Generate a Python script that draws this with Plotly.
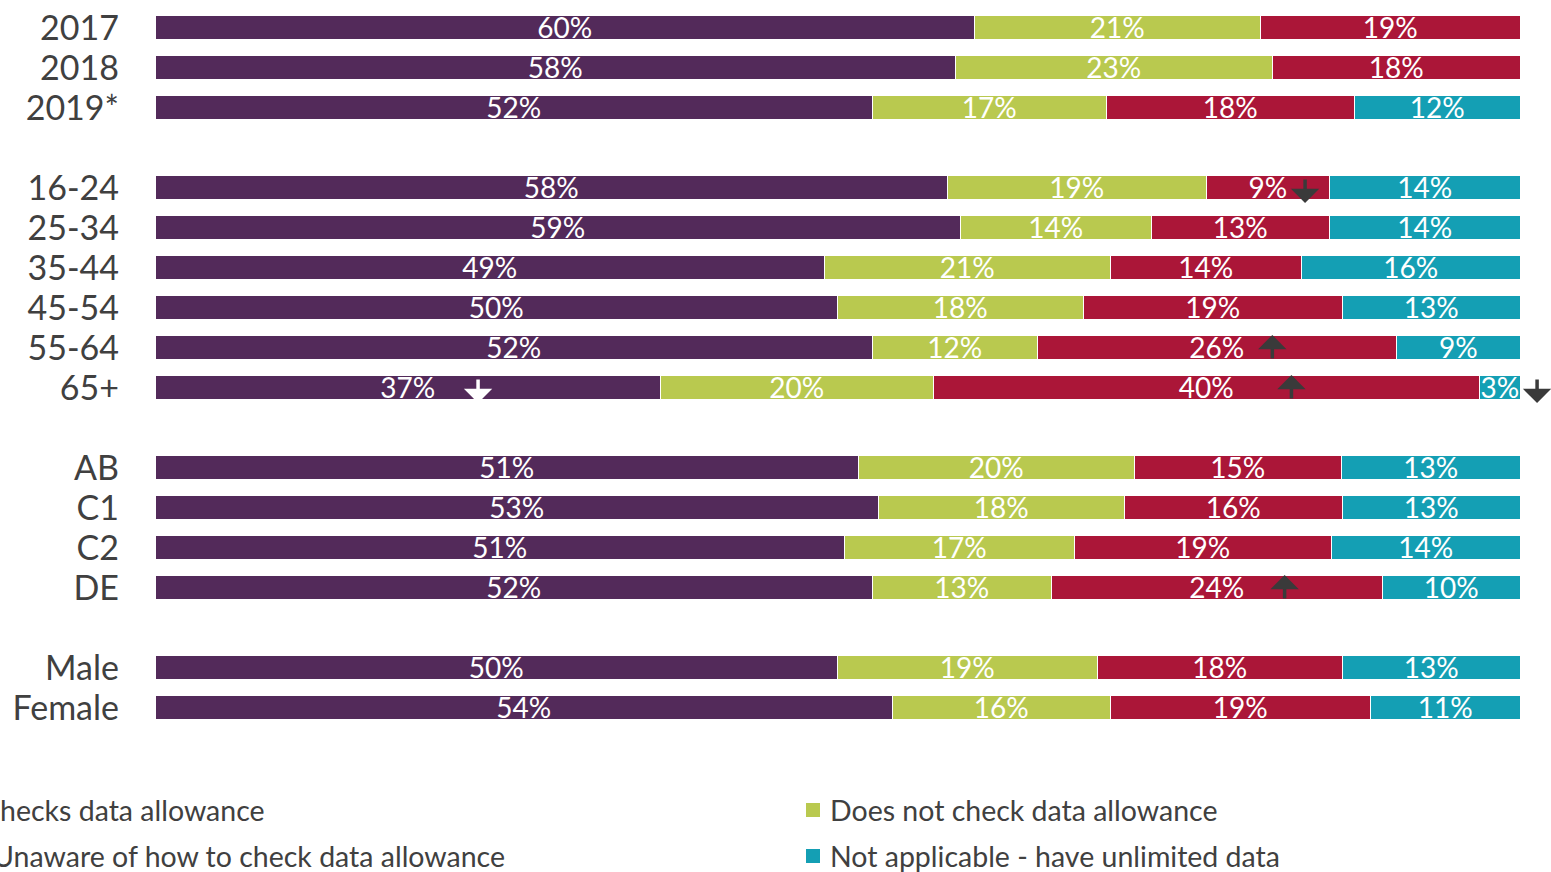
import plotly.graph_objects as go

# Row groups (a blank slot separates each group)
groups = [
    ["2017", "2018", "2019*"],
    ["16-24", "25-34", "35-44", "45-54", "55-64", "65+"],
    ["AB", "C1", "C2", "DE"],
    ["Male", "Female"],
]
categories = [c for g in groups for c in g]

series_names = [
    "Checks data allowance",
    "Does not check data allowance",
    "Unaware of how to check data allowance",
    "Not applicable - have unlimited data",
]
checks = [60, 58, 52, 58, 59, 49, 50, 52, 37, 51, 53, 51, 52, 50, 54]
does_not_check = [21, 23, 17, 19, 14, 21, 18, 12, 20, 20, 18, 17, 13, 19, 16]
unaware = [19, 18, 18, 9, 13, 14, 19, 26, 40, 15, 16, 19, 24, 18, 19]
unlimited = [None, None, 12, 14, 14, 16, 13, 9, 3, 13, 13, 14, 10, 13, 11]
series_values = [checks, does_not_check, unaware, unlimited]
series_colors = ["#532a5a", "#b9c94f", "#ab1638", "#149fb4"]

# Significant-change markers: (category, position on the 0-100 scale, direction, colour)
sig_arrows = [
    ("16-24", 84.2, "down", "#3a3a3a"),
    ("55-64", 81.8, "up", "#3a3a3a"),
    ("65+", 23.6, "down", "#ffffff"),
    ("65+", 83.2, "up", "#3a3a3a"),
    ("65+", 101.2, "down", "#3a3a3a"),
    ("DE", 82.7, "up", "#3a3a3a"),
]

# Slot index for each row, leaving one empty slot between groups
row_pos = {}
slot = 0
for g in groups:
    for c in g:
        row_pos[c] = slot
        slot += 1
    slot += 1
last_slot = slot - 2
y_vals = [row_pos[c] for c in categories]

FONT = "Lato"
TEXT_GREY = "#404040"

fig = go.Figure()
for name, vals, color in zip(series_names, series_values, series_colors):
    fig.add_trace(go.Bar(
        x=vals,
        y=y_vals,
        orientation="h",
        name=name,
        width=0.6,
        marker=dict(color=color, line=dict(color="white", width=1.5)),
        text=[f"{v}%" if v else "" for v in vals],
        textposition="inside",
        insidetextanchor="middle",
        textangle=0,
        constraintext="none",
        textfont=dict(family=FONT, size=28, color="white"),
        showlegend=False,
        hoverinfo="x+y+name",
    ))

annotations = []
for cat, xpos, direction, color in sig_arrows:
    down = direction == "down"
    annotations.append(dict(
        x=xpos, y=row_pos[cat], xref="x", yref="y",
        text="", showarrow=True,
        ax=0, ay=-25 if down else 25,
        yshift=-15 if down else 13,
        arrowhead=1, arrowsize=1.35, arrowwidth=3.5,
        arrowcolor=color,
    ))

# Legend drawn beneath the plot (two columns, two rows)
W, H = 1551, 872
ML, MR, MT, MB = 156, 3, 8, 144
pw = W - ML - MR
ph = H - MT - MB


def px_x(px):
    return (px - ML) / pw


def px_y(py):
    return (H - MB - py) / ph


legend_rows = [810, 856]
left_col_end = [267, 507]
shapes = []
# Left column: names right-aligned to their end points
for i, yy in enumerate(legend_rows):
    annotations.append(dict(
        x=px_x(left_col_end[i]), y=px_y(yy), xref="paper", yref="paper",
        text=series_names[2 * i], showarrow=False,
        xanchor="right", yanchor="middle",
        font=dict(family=FONT, size=28.5, color=TEXT_GREY),
    ))
# Right column: coloured square then name
for i, yy in enumerate(legend_rows):
    idx = 2 * i + 1
    shapes.append(dict(
        type="rect", xref="paper", yref="paper",
        x0=px_x(806), x1=px_x(820), y0=px_y(yy + 7), y1=px_y(yy - 7),
        fillcolor=series_colors[idx], line=dict(width=0),
    ))
    annotations.append(dict(
        x=px_x(828), y=px_y(yy), xref="paper", yref="paper",
        text=series_names[idx], showarrow=False,
        xanchor="left", yanchor="middle",
        font=dict(family=FONT, size=28.5, color=TEXT_GREY),
    ))

fig.update_layout(
    template="none",
    width=W, height=H,
    margin=dict(l=ML, r=MR, t=MT, b=MB, autoexpand=False),
    paper_bgcolor="white", plot_bgcolor="white",
    barmode="stack", barnorm="percent",
    bargap=0,
    xaxis=dict(range=[0, 102], visible=False, fixedrange=True),
    yaxis=dict(
        tickvals=y_vals, ticktext=categories,
        range=[last_slot + 0.5, -0.5],
        showgrid=False, zeroline=False, showline=False, ticks="",
        ticklabelstandoff=36, automargin=False,
        tickfont=dict(family=FONT, size=34, color=TEXT_GREY),
        fixedrange=True,
    ),
    annotations=annotations,
    shapes=shapes,
)

fig.write_html("out.html")
